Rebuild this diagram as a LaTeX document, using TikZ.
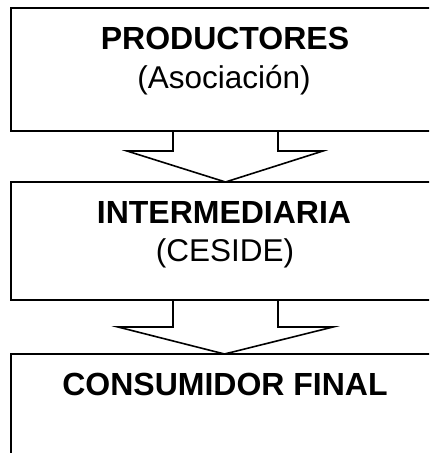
\documentclass[tikz,border=0pt]{standalone}
\usepackage{fontspec}
\setmainfont{Liberation Sans}
\begin{document}
\begin{tikzpicture}[x=1pt,y=-1pt,line width=1.6pt,
  box/.style={draw=black,rectangle,anchor=north west,inner sep=0pt,outer sep=0pt},
  titletext/.style={anchor=base,inner sep=0pt,font=\fontsize{32}{38}\selectfont\bfseries},
  subtext/.style={anchor=base,inner sep=0pt,font=\fontsize{31.5}{38}\selectfont},
  arrowshape/.style={draw=black,line join=miter}]
\useasboundingbox (0,0) rectangle (429,453);
\clip (0,0) rectangle (429,453);
% boxes
\node[box,minimum width=449pt,minimum height=123pt] (prod) at (11,8) {};
\node[box,minimum width=449pt,minimum height=118pt] (inter) at (11,182) {};
\node[box,minimum width=449pt,minimum height=140pt] (cons) at (11,354) {};
% texts
\node[titletext] (prodt) at (225,49) {PRODUCTORES};
\node[subtext] (prods) at (224,88) {(Asociación)};
\node[titletext] (intert) at (224,223) {INTERMEDIARIA};
\node[subtext] (inters) at (225,261) {(CESIDE)};
\node[titletext] (const) at (225,395) {CONSUMIDOR FINAL};
% arrow 1
\coordinate (a1l) at (173,131);
\coordinate (a1r) at (278,131);
\coordinate (a1tip) at (225.5,182);
\draw[arrowshape] (a1l) -- (173,151) -- (127,151) -- (a1tip) -- (323,151) -- (278,151) -- (a1r);
% arrow 2
\coordinate (a2l) at (173,300);
\coordinate (a2r) at (278,300);
\coordinate (a2tip) at (224.5,354);
\draw[arrowshape] (a2l) -- (173,327) -- (118,327) -- (a2tip) -- (333,327) -- (278,327) -- (a2r);
\end{tikzpicture}
\end{document}
